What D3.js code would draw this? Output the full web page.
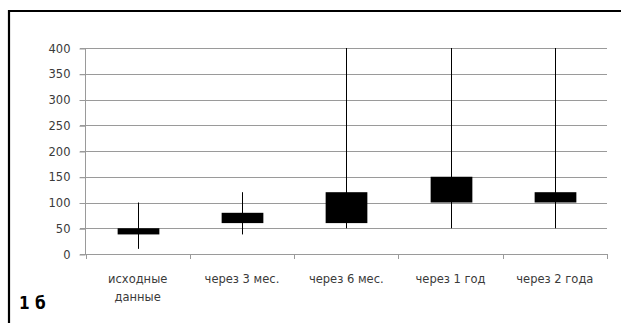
<!DOCTYPE html>
<html><head><meta charset="utf-8">
<script src="https://cdn.jsdelivr.net/npm/d3@7"></script>
<style>body{margin:0;background:#fff}svg{display:block}</style>
</head><body>
<svg id="c" width="621" height="323"></svg>
<script>
const categories = [["исходные","данные"],["через 3 мес."],["через 6 мес."],["через 1 год"],["через 2 года"]];
const lowValues = [10, 38, 50, 50, 50];
const highValues = [100, 120, 400, 400, 400];
const boxLow = [38, 60, 60, 100, 100];
const boxHigh = [50, 80, 120, 150, 120];
const yTicks = [0, 50, 100, 150, 200, 250, 300, 350, 400];

const svg = d3.select("#c");
const x = d3.scaleBand().domain(d3.range(categories.length)).range([85.5, 607]).paddingInner(0).paddingOuter(0);
const y = d3.scaleLinear().domain([0, 400]).range([254, 48]);
const font = "DejaVu Sans, sans-serif";

// frame
svg.append("path").attr("d", "M9,323 V11 H621").attr("fill", "none").attr("stroke", "#000").attr("stroke-width", 2.2);

// gridlines
svg.append("g").selectAll("line").data(yTicks).join("line")
  .attr("x1", 80).attr("x2", 607)
  .attr("y1", d => Math.round(y(d)) + 0.5).attr("y2", d => Math.round(y(d)) + 0.5)
  .attr("stroke", "#9a9a9a").attr("stroke-width", 1);

// y axis
const ya = svg.append("g").attr("transform", "translate(85.5,0.5)")
  .call(d3.axisLeft(y).tickValues(yTicks).tickSize(6).tickPadding(9));
ya.select(".domain").attr("stroke", "#9a9a9a").attr("d", `M0,${y(400)}V${y(0)}`);
ya.selectAll(".tick line").attr("stroke", "#9a9a9a");
ya.selectAll("text").attr("font-family", font).attr("font-size", 11.5).attr("fill", "#3a3a3a");

// x axis
const xTickPos = d3.range(categories.length + 1).map(i => i < categories.length ? x(i) : x(categories.length - 1) + x.bandwidth());
svg.append("line").attr("x1", 85.5).attr("x2", 607).attr("y1", 254.5).attr("y2", 254.5).attr("stroke", "#9a9a9a");
svg.append("g").selectAll("line").data(xTickPos).join("line")
  .attr("x1", d => Math.round(d) + 0.5).attr("x2", d => Math.round(d) + 0.5)
  .attr("y1", 254).attr("y2", 259).attr("stroke", "#9a9a9a");

// labels
const lab = svg.append("g").selectAll("text").data(categories).join("text")
  .attr("text-anchor", "middle").attr("font-family", font).attr("font-size", 11.5).attr("fill", "#3a3a3a")
  .attr("transform", (d, i) => `translate(${x(i) + x.bandwidth() / 2},283)`);
lab.selectAll("tspan").data(d => d).join("tspan")
  .attr("x", 0).attr("dy", (d, j) => j === 0 ? 0 : 18)
  .text(d => d);

// candles
const bw = x.bandwidth() * 0.4;
const g = svg.append("g");
categories.forEach((c, i) => {
  const cx = Math.round(x(i) + x.bandwidth() / 2) + 0.5;
  g.append("line").attr("x1", cx).attr("x2", cx).attr("y1", y(highValues[i])).attr("y2", y(lowValues[i]))
    .attr("stroke", "#000").attr("stroke-width", 1);
  g.append("rect").attr("x", cx - bw / 2).attr("width", bw)
    .attr("y", y(boxHigh[i])).attr("height", y(boxLow[i]) - y(boxHigh[i])).attr("fill", "#000");
});

// panel label
svg.append("text").attr("x", 19).attr("y", 309).attr("font-family", "DejaVu Sans, sans-serif")
  .attr("font-weight", "bold").attr("font-stretch", "condensed").attr("font-size", 17).attr("fill", "#000")
  .text("1 б");
</script>
</body></html>
